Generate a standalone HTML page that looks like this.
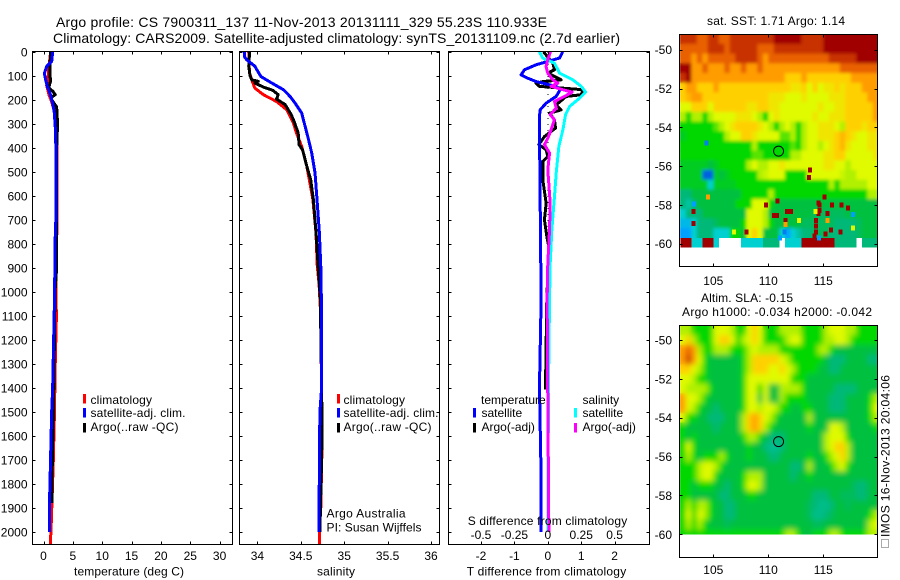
<!DOCTYPE html>
<html lang="en">
<head>
<meta charset="utf-8">
<title>Argo profile 7900311_137</title>
<style>
html,body{margin:0;padding:0;background:#fff;}
svg{display:block;}
text{font-family:"Liberation Sans",sans-serif;font-size:12px;fill:#000;}
.title{font-size:14px;}
</style>
</head>
<body>
<svg id="chart" xmlns="http://www.w3.org/2000/svg" width="900" height="580" viewBox="0 0 900 580">
  <defs>
    <clipPath id="clip-t"><rect x="32.5" y="51.5" width="200" height="493"/></clipPath>
    <clipPath id="clip-s"><rect x="239.5" y="51.5" width="200" height="493"/></clipPath>
    <clipPath id="clip-d"><rect x="448.5" y="51.5" width="201" height="493"/></clipPath>
    <clipPath id="clip-m1"><rect x="680" y="34" width="198" height="232"/></clipPath>
    <clipPath id="clip-m2"><rect x="680" y="326" width="198" height="208.5"/></clipPath>
    <filter id="soft" x="-5%" y="-5%" width="110%" height="110%"><feGaussianBlur stdDeviation="3"/></filter>
    <filter id="soft-light" x="-5%" y="-5%" width="110%" height="110%"><feGaussianBlur stdDeviation="1.6"/></filter>
  </defs>
  <rect width="900" height="580" fill="#fff"/>
  <text class="title" x="56" y="27" textLength="491" lengthAdjust="spacing">Argo profile: CS 7900311_137 11-Nov-2013 20131111_329 55.23S 110.933E</text>
  <text class="title" x="53" y="43" textLength="567" lengthAdjust="spacing">Climatology: CARS2009. Satellite-adjusted climatology: synTS_20131109.nc (2.7d earlier)</text>
  <g id="layer-maps"></g>
  <g id="layer-profiles"></g>
  <g id="layer-axes"></g>

  <text x="74" y="575.5" textLength="110" lengthAdjust="spacing">temperature (deg C)</text>
  <text x="317" y="575.5" textLength="38" lengthAdjust="spacing">salinity</text>
  <text x="466.7" y="575.5" textLength="159.5" lengthAdjust="spacing">T difference from climatology</text>
  <text x="467.7" y="525" textLength="159.5" lengthAdjust="spacing">S difference from climatology</text>

  <g>
    <rect x="83" y="394" width="3" height="9.5" fill="#f00"/>
    <text x="90.5" y="404" textLength="61.5" lengthAdjust="spacing">climatology</text>
    <rect x="83" y="408" width="3" height="9.5" fill="#00f"/>
    <text x="90.5" y="417" textLength="95" lengthAdjust="spacing">satellite-adj. clim.</text>
    <rect x="83" y="423" width="3" height="9.5" fill="#000"/>
    <text x="90.5" y="431" textLength="88" lengthAdjust="spacing">Argo(..raw -QC)</text>
  </g>
  <g>
    <rect x="337" y="394" width="3" height="9.5" fill="#f00"/>
    <text x="343.5" y="404" textLength="61.5" lengthAdjust="spacing">climatology</text>
    <rect x="337" y="408" width="3" height="9.5" fill="#00f"/>
    <text x="343.5" y="417" textLength="95" lengthAdjust="spacing">satellite-adj. clim.</text>
    <rect x="337" y="423" width="3" height="9.5" fill="#000"/>
    <text x="343.5" y="431" textLength="88" lengthAdjust="spacing">Argo(..raw -QC)</text>
  </g>
  <text x="326.5" y="517.5" textLength="79" lengthAdjust="spacing">Argo Australia</text>
  <text x="326.5" y="531.5" textLength="95" lengthAdjust="spacing">PI: Susan Wijffels</text>
  <g>
    <text x="481" y="404">temperature</text>
    <rect x="473" y="408" width="3" height="9.5" fill="#00f"/>
    <text x="481.5" y="417">satellite</text>
    <rect x="473" y="423" width="3" height="9.5" fill="#000"/>
    <text x="481.5" y="431">Argo(-adj)</text>
    <text x="582.5" y="404">salinity</text>
    <rect x="574" y="408" width="3" height="9.5" fill="#0ff"/>
    <text x="582.5" y="417">satellite</text>
    <rect x="574" y="423" width="3" height="9.5" fill="#f0f"/>
    <text x="582.5" y="431">Argo(-adj)</text>
  </g>

  <text x="707" y="25" textLength="138" lengthAdjust="spacing">sat. SST: 1.71 Argo: 1.14</text>
  <text x="701" y="302" textLength="92" lengthAdjust="spacing">Altim. SLA: -0.15</text>
  <text x="682" y="316" textLength="190" lengthAdjust="spacing">Argo h1000: -0.034 h2000: -0.042</text>
  <rect x="881.5" y="539.5" width="7" height="8" fill="none" stroke="#555" stroke-width="1" stroke-dasharray="1 1"/>
  <text transform="translate(889.5 537) rotate(-90)" textLength="162" lengthAdjust="spacing">IMOS 16-Nov-2013 20:04:06</text>
</svg>
<script>
// ---- axis tick data ----
const depthTicks = [0,100,200,300,400,500,600,700,800,900,1000,1100,1200,1300,1400,1500,1600,1700,1800,1900,2000];
const tempTicks = [0,5,10,15,20,25,30];
const salTicks = [34,34.5,35,35.5,36];
const salTickLabels = ['34','34.5','35','35.5','36'];
const dtTicks = [-2,-1,0,1,2];
const dsTicks = [-0.5,-0.25,0,0.25,0.5];
const dsTickLabels = ['-0.5','-0.25','0','0.25','0.5'];
const lonTicks = [105,110,115];
const latTicks = [-50,-52,-54,-56,-58,-60];

// ---- temperature profiles ----
const tempClimDepth = [0,60,100,140,180,200,250,400,700,1000,1100,1300,1520,1720,1980,2055];
const tempClimValue = [1.22,0.94,0.82,0.54,0.94,1.28,1.9,2.3,2.3,2.1,2.2,2.0,1.85,1.65,1.3,1.16];
const tempArgoDepth = [0,60,100,120,150,165,179,190,200,230,300,330,400,800,900,1000,1500,1700,1880];
const tempArgoValue = [1.22,1.1,1.1,1.22,0.9,1.6,2.0,1.3,1.4,2.24,2.4,2.35,2.24,2.24,2.24,1.96,1.7,1.5,1.45];
const tempSatDepth = [0,40,60,90,117,145,172,214,255,340,478,700,800,1000,1400,1500,1700,1900,2000];
const tempSatValue = [1.56,1.4,0.55,0.15,0.37,0.65,1.1,1.56,1.85,2.07,2.13,2.1,1.96,1.9,1.56,1.39,1.2,1.0,1.0];

// ---- salinity profiles ----
const salClimDepth = [0,60,89,117,151,179,207,242,297,339,394,478,617,755,894,964,1100,1630,1900,1970,2055];
const salClimValue = [33.9,33.905,33.91,33.935,33.97,34.07,34.22,34.34,34.415,34.45,34.51,34.57,34.64,34.675,34.69,34.71,34.73,34.745,34.73,34.714,34.714];
const salArgoDepth = [0,60,100,117,123,130,147,161,179,197,220,262,297,339,387,408,478,533,617,755,894,1033,1400,1600,1800,2000];
const salArgoValue = [33.91,33.9,33.916,33.935,34.01,33.97,34.07,34.18,34.24,34.22,34.32,34.39,34.43,34.47,34.48,34.52,34.57,34.614,34.645,34.676,34.7,34.725,34.74,34.745,34.733,34.72];
const salSatDepth = [0,20,33,60,103,130,158,186,214,255,311,367,422,505,617,755,894,1033,1400,1500,1700,2000];
const salSatValue = [33.85,33.85,33.877,33.97,34.04,34.165,34.3,34.376,34.434,34.51,34.55,34.59,34.626,34.664,34.687,34.714,34.73,34.737,34.74,34.72,34.714,34.71];

// ---- difference profiles ----
const dtArgoDepth = [0,47,75,89,117,124,131,144,158,179,186,221,242,256,283,318,353,387,408,436,457,533,631,700,769,811,1033,1408];
const dtArgoValue = [-0.13,0.15,0.2,0,0.4,-0.15,-0.35,-0.25,1.05,1.0,0.55,0.25,0.4,0.05,0.2,0.23,-0.1,-0.27,-0.05,0,-0.15,-0.15,-0.05,-0.1,-0.03,0.03,-0.03,-0.07];
const dtSatDepth = [0,26,40,54,75,96,110,124,144,158,186,214,242,269,464,1033,1400,1700,2000];
const dtSatValue = [0.45,0.35,0,-0.35,-0.7,-0.8,-0.6,-0.35,0.25,0.37,0.25,-0.05,-0.23,-0.25,-0.24,-0.2,-0.25,-0.21,-0.21];
const dsArgoDepth = [0,33,61,89,117,131,144,158,168,186,207,235,262,283,325,360,387,422,492,630,742,881,1033,1450,2000];
const dsArgoValue = [0.02,0,-0.013,0,0.038,0.075,0.025,0.113,0.183,0.125,0.05,0.063,0.018,0.05,0.025,0,-0.025,0.013,0,0.018,0.013,0,-0.005,0,0.008];
const dsSatDepth = [0,26,47,89,117,144,168,193,228,262,325,394,505,603,742,881,1033,1400,2000];
const dsSatValue = [-0.063,-0.038,0.05,0.088,0.188,0.25,0.283,0.238,0.163,0.133,0.113,0.083,0.063,0.05,0.03,0.018,0.013,0.005,0];

// ---- map data: colour-scale level per 0.5-degree cell, null = no data ----
const mapLonStart = 102;
const mapCellDegrees = 0.5;
const sstLatStart = -49.2;
const sstGrid = [
[11,11,11,10,10,11,11,10,10,11,11,11,11,11,11,11,11,12,12,12,12,12,11,11,11,11,12,12,12,12,12,12,12,12,12,12],
[10,10,10,10,10,11,11,11,10,11,11,11,11,11,10,10,10,11,11,11,11,11,11,11,11,11,12,12,12,12,12,12,12,12,12,12],
[10,10,9,10,9,10,10,10,10,10,11,11,11,11,10,9,10,10,10,10,10,10,10,10,10,10,10,11,11,11,11,11,12,12,12,12],
[12,12,9,9,10,9,9,9,10,9,9,10,9,9,10,9,9,9,9,9,9,9,9,9,9,9,9,9,9,10,10,10,10,10,10,10],
[11,12,9,9,9,9,9,9,9,9,9,9,9,9,9,9,9,9,9,8,8,8,9,8,8,8,8,8,8,8,8,9,9,9,9,9],
[8,9,9,8,8,8,9,8,8,8,8,8,8,8,8,8,8,8,8,8,7.5,7.5,8,7,8,7,7.5,7.5,8,7.5,8,8,8,9,9,9],
[8,8.5,9,9,8,8,8,8,8,8,8,8,8,8,8,8,7.5,7.5,7.5,7,7,7,7.5,7,7,7,7,7.5,7.5,7.5,8,8,8,8,9,9],
[7,7,8,8,8,7,8,8,8,8,8,8,7.5,7.5,8,8,7.5,7.5,7,7,7,7,7,7,7,7.5,7,7,7.5,7.5,8,8,8,8,8,9],
[6,5,6,6,5,6,7,7,7,7,7.5,7.5,7.5,7,6,5,7,7.5,7,7,7,7,7,7,7.5,7,7,7.5,7.5,7.5,8,8,8,8,8,9],
[5,5,5,5,5,5,5.5,6,7,7.5,8,8,8,8,7.5,7,6,5,6,7,6,5,6,7,7,7.5,7.5,7.5,7,6,8,8,8,7.5,8,8],
[4.5,5,5,5,5,5,5,5,6,7,7,8,8,7.5,7,7,7,7,5.5,5.5,6,5,6,7,7,7.5,7.5,7.5,8,8.5,8,7.5,7,7,7.5,7.5],
[5,5,5,5,5,5,5,5,5,5,5,5,5,6,5,5,5,5,5,5,5.5,5,6,7,7,6,7,7.5,8,8.5,7.5,7,7,7,7.5,7.5],
[5,5,5,5,5,5,5,5,5,5,5,5,5,5.5,5.5,5,5,5,5,5,6,6,7,7,7,7,7.5,7.5,8,8,7,7,7,7,7,7.5],
[4.5,4.5,4.5,4.5,4.5,4,4.5,5,5,5,5,5,6,7,6,6,7,7,7.5,7,7,7,7,7,7,7,7.5,7.5,7,7,6,7,7,7,7,7],
[4.5,4.5,4.5,4.5,0,0,4.5,4,4.5,5,5,5,5,5,6,6.5,7,7,7,5,5,5,5,7,7,7,7,7,7,6.5,6,6,7,7,7,7],
[4.5,4.5,4.5,4.5,4.5,2,4.5,4.5,4.5,4.5,5,5,5,5,5,5,5,5,5,5,5,5,5,5,5,5,5,6,5,6,6,6,6,6,7,7],
[3,3,4,4,4,4,4,4,4,4,4,5,5,5,5,5,6,5,5,5,5,5,5,5,5,5,5,5,5,5,5,5,5,5,6,6],
[3,2.5,3,4,4,4,4,4,4,4,5,5,5,7,7,7,5,4,4,4,4,4,4,4,4,4,4,4,4,4,4,4,4,4,4,4],
[2,3,3,3,4,4,4,4,4,4,4,4,7,7,7,6,4,4,4,4,4,4,4,4,3.5,3.5,3.5,3.5,3.5,3.5,4,4,4,4,4,4],
[1.5,1.5,2,3,3,3,3.5,4,4,4,4,5,7,7,7,6,5,4,4,4,4,4,3.5,3.5,3.5,3.5,3.5,3.5,3,3,3,3,3.5,4,4,4],
[1,1,2,3,3,3,2,2,2,5,5,4,7,8,7,4,4,4,2,1,2,2.5,3,3,3.5,3.5,3.5,3,3,3,3,3,3.5,4,4,4],
[12,12,2,2,12,12,2,null,null,null,null,2,2,2,2,3,3,3,null,2,2,2,12,12,12,12,12,12,3,3,3,3,null,3,3,3]
];
const sstSpeckLon = [109.8,110.85,110.5,110.8,111.55,111.7,112.05,113.8,113.7,114.65,114.65,114.55,114.55,115.1,115.8,116.65,117.25,115.4,114.35,114.35,114.35,114.2,115.2,108,103.2,103.2,115.7,116.55,114.3,115.4,112.8,106.9,117.7,104.5,111.55,104.4,111.45,103.25,111.05,114.6,117.7];
const sstSpeckLat = [-58,-57.8,-58.55,-58.55,-58.8,-58.35,-58.35,-56.2,-56.6,-58.3,-58,-57.9,-58.45,-57.6,-58,-58,-58.15,-58.45,-58.8,-59.1,-59.4,-59.6,-59.5,-59.4,-58.35,-58.95,-59.3,-59.4,-58.35,-58.8,-58.8,-59.4,-59.2,-57.6,-59,-54.8,-59.4,-57.95,-59.7,-59.7,-58.5];
const sstSpeckLevel = [12,12,12,12,12,12,12,12,12,12,12,12,12,12,12,12,12,12,12,12,12,12,12,12,12,12,12,12,7,9,7,7,7,9,9,0.5,0.5,1,1,1,1];

const slaLatStart = -49.25;
const slaGrid = [
[6,6,5,5,5,5,7,7,7,6,5,5,7,8,7,5,5,5,6,6,6,6,5,5,5,5,6,7,7,7,6,6,5,5,5,5],
[7,8,6,5,5,5,7,8,8,7,5,6,7,8,7,5,5,5,5,6,7,7,5,5,5,5,6,6,7,7,6,5,5,5,5,5],
[9,10,9,6,5,5,6,6,6,5,5,5,6,7,6,6,6,6,5,5,5,5,5,5,5,6,6,5,4,4,4,4,4,4,4,4],
[9,11,9,7,5,4,4,4,4,4,4,5,6,8,8,8,8,8,7,6,5,5,5,5,5,5,4,3,3,3,4,4,4,4,3,3],
[8,8,7,6,5,4,4,4,4,4,4,5,6,8,8,8,7,7,8,7,6,5,5,5,5,4,4,3,3,4,4,4,4,4,4,4],
[7,7,6,5,5,4,4,4,4,4,4,5,7,7,7,7,7,7,7,7,5,5,5,4,4,4,4,4,4,4,4,4,4,4,4,4],
[7,6,6,6,6,5,4,4,4,4,4,5,7,7,5,7,4,4,6,6,6,6,5,4,4,4,4,4,3,3,3,3,4,4,4,4],
[9,7,7,6,5,4,4,4,4,4,4,5,7,7,4,7,4,4,6,5,5,5,5,4,4,4,4,3,3,3,4,4,4,4,5,6],
[9,7,6,5,4,4,3,4,4,4,4,5,7,7,6,7,7,6,5,5,4,4,5,5,4,4,4,3,3,3,4,4,4,4,5,7],
[7,5,5,4,4,3,3,3,4,4,4,6,8,9,8,7,6,5,4,4,4,4,4,6,4,4,4,4,4,4,4,4,4,4,5,6],
[5,4,4,4,4,4,3,4,4,4,4,6,8,9,8,6,5,4,4,4,4,4,4,5,4,4,4,7,7,6,4,4,4,4,4,5],
[5,4,5,4,4,4,4,4,4,4,4,5,6,6,5,4,3,3,3,4,4,4,4,4,4,4,6,7,7,7,5,4,4,4,4,4],
[5,7,5,4,4,4,4,4,4,4,4,4,5,4,4,3,2.7,2.7,3,4,4,4,4,4,4,4,6,7,8,8,6,4,4,4,4,4],
[5,6,5,4,5,5,5,6,5,4,4,4,5,4,4,4,3,3,4,4,4,4,4,5,4,4,5,6,7,8,6,4,4,4,4,4],
[5,5,5,6,7,7,6,5,4,4,4,4,4,4,4,4,4,4,4,4,3,3,4,6,4,4,4,5,6,7,5,4,4,4,4,4],
[5,5,5,6,7,7,5,4,4,4,4,5,6,6,6,4,4,4,4,4,3,4,4,5,4,4,4,4,4,4,4,4,4,4,4,4],
[5,5,4,5,5,5,4,4,3,4,4,5,7,7,6,4,4,4,4,4,4,4,4,4,4,4,4,4,4,4,4,3.5,3,3,4,4],
[5,5,4,4,4,4,4,3,3,4,4,4,5,5,4,4,4,4,4,4,4,4,4,4,3,3,3,4,4,3.5,3.5,3.5,3,3,4,4],
[5,6,5,6,6,5,4,4,3,3,4,4,4,4,4,4,4,4,4,4,4,4,4,3.5,3,2.8,2.8,3,4,4,3.5,4,4,4,4,4],
[5,7,5,7,6,5,4,4,3,3,4,4,4,4,4,4,4,4,4,4,4,4,4,3.5,2.8,2.8,3,3.5,4,4,4,4,4,4,5,6],
[5,6,5,6,5,4,4,4,3.5,4,4,4,4,4,4,4,4,4,4,4,4,4,4,4,3.5,3.5,4,4,4,4,4,4,4,4,6,7],
[5,5,5,5,5,5,5,5,5,5,5,5,5,5,5,5,5,5,5,6,6,5,4,4,5,5,5,6,6,5,5,5,5,5,6,6]
];
const floatLon = 110.933;
const floatLat = -55.23;

// ---- rendering ----
const NS = 'http://www.w3.org/2000/svg';
const mapsLayer = document.getElementById('layer-maps');
const profilesLayer = document.getElementById('layer-profiles');
const axesLayer = document.getElementById('layer-axes');

function make(tag, parent) {
  const el = document.createElementNS(NS, tag);
  parent.appendChild(el);
  return el;
}

const yDepth = d => 51.8 + d * 0.24;
const xTemp = v => 43.5 + v * 5.87;
const xSal = v => 257.4 + (v - 34) * 86.8;
const xDt = v => 547.8 + v * 33.4;
const xDs = v => 547.8 + v * 133.6;
const xLon = v => 680.3 + (v - 102) * 11;
const ySstLat = v => 49.7 + (-50 - v) * 19.4;
const ySlaLat = v => 340 + (-50 - v) * 19.43;

const colourStops = ['#0060e0','#00a0ff','#00d0d0','#00b878','#00c040','#00d800','#b0f000','#e0fa00','#ffd000','#ff9c00','#e86000','#c83000','#a00000'];

function colour(level) {
  const lo = Math.max(0, Math.min(12, Math.floor(level)));
  const hi = Math.min(12, lo + 1);
  const t = level - lo;
  const a = parseInt(colourStops[lo].slice(1), 16);
  const b = parseInt(colourStops[hi].slice(1), 16);
  const mix = s => Math.round(((a >> s) & 255) * (1 - t) + ((b >> s) & 255) * t);
  return 'rgb(' + mix(16) + ',' + mix(8) + ',' + mix(0) + ')';
}

function drawGrid(parent, grid, firstRow, lastRow, latStart, yLat, cellName) {
  for (let r = firstRow; r <= lastRow; r++) {
    grid[r].forEach((level, c) => {
      const lon = mapLonStart + c * mapCellDegrees;
      const lat = latStart - r * mapCellDegrees;
      const cell = make('rect', parent);
      
      
      cell.setAttribute('x', xLon(lon));
      cell.setAttribute('y', yLat(lat));
      cell.setAttribute('width', xLon(lon + mapCellDegrees) - xLon(lon) + 0.4);
      cell.setAttribute('height', yLat(lat - mapCellDegrees) - yLat(lat) + 0.4);
      cell.setAttribute('fill', level === null ? '#fff' : colour(level));
    });
  }
}

function drawFrame(left, right, top, bottom, name) {
  const frame = make('rect', axesLayer);
  
  
  frame.setAttribute('x', left);
  frame.setAttribute('y', top);
  frame.setAttribute('width', right - left);
  frame.setAttribute('height', bottom - top);
  frame.setAttribute('fill', 'none');
  frame.setAttribute('stroke', '#000');
  frame.setAttribute('stroke-width', '1');
  frame.setAttribute('shape-rendering', 'crispEdges');
}

function tickSegment(x1, y1, x2, y2) {
  const t = make('line', axesLayer);
  
  
  t.setAttribute('x1', x1);
  t.setAttribute('y1', y1);
  t.setAttribute('x2', x2);
  t.setAttribute('y2', y2);
  t.setAttribute('stroke', '#000');
  t.setAttribute('stroke-width', '1');
  t.setAttribute('shape-rendering', 'crispEdges');
}

function tickLabel(x, y, text, anchor) {
  const t = make('text', axesLayer);
  
  
  t.setAttribute('x', x);
  t.setAttribute('y', y);
  t.setAttribute('text-anchor', anchor);
  t.textContent = text;
}

function xTicks(values, labels, scale, top, bottom, labelY) {
  values.forEach((v, i) => {
    const x = Math.round(scale(v)) + 0.5;
    tickSegment(x, top, x, top + 3);
    tickSegment(x, bottom - 3, x, bottom);
    tickLabel(scale(v), labelY, labels[i], 'middle');
  });
}

function yTicks(values, scale, left, right) {
  values.forEach(v => {
    const y = Math.round(scale(v)) + 0.5;
    tickSegment(left, y, left + 3, y);
    tickSegment(right - 3, y, right, y);
  });
}

function drawProfile(depths, values, xScale, clipId, stroke, name) {
  const line = make('polyline', profilesLayer);
  
  
  line.setAttribute('points', depths.map((d, i) => xScale(values[i]).toFixed(2) + ',' + yDepth(d).toFixed(2)).join(' '));
  line.setAttribute('fill', 'none');
  line.setAttribute('stroke', stroke);
  line.setAttribute('stroke-width', '3');
  line.setAttribute('stroke-linejoin', 'round');
  line.setAttribute('shape-rendering', 'crispEdges');
  line.setAttribute('clip-path', 'url(#' + clipId + ')');
}

// maps
const sstGroup = make('g', mapsLayer);


sstGroup.setAttribute('clip-path', 'url(#clip-m1)');
const sstBase = make('g', sstGroup);


drawGrid(sstBase, sstGrid, 0, 20, sstLatStart, ySstLat, 'sst-cell');
const sstSoft = make('g', sstGroup);


sstSoft.setAttribute('filter', 'url(#soft-light)');
drawGrid(sstSoft, sstGrid, 0, 20, sstLatStart, ySstLat, 'sst-cell');
const sstEdge = make('g', sstGroup);


sstEdge.setAttribute('shape-rendering', 'crispEdges');
drawGrid(sstEdge, sstGrid, 21, 21, sstLatStart, ySstLat, 'sst-cell');
const sstBelow = make('rect', sstEdge);


sstBelow.setAttribute('x', 680);
sstBelow.setAttribute('y', ySstLat(-60.2));
sstBelow.setAttribute('width', 198);
sstBelow.setAttribute('height', 30);
sstBelow.setAttribute('fill', '#fff');
sstSpeckLon.forEach((lon, i) => {
  const s = make('rect', sstEdge);
  
  
  s.setAttribute('x', xLon(lon) - 2);
  s.setAttribute('y', ySstLat(sstSpeckLat[i]) - 2.5);
  s.setAttribute('width', 4);
  s.setAttribute('height', 5);
  s.setAttribute('fill', colour(sstSpeckLevel[i]));
});

const slaGroup = make('g', mapsLayer);


slaGroup.setAttribute('clip-path', 'url(#clip-m2)');
const slaBase = make('g', slaGroup);


drawGrid(slaBase, slaGrid, 0, 21, slaLatStart, ySlaLat, 'sla-cell');
const slaSoft = make('g', slaGroup);


slaSoft.setAttribute('filter', 'url(#soft)');
drawGrid(slaSoft, slaGrid, 0, 21, slaLatStart, ySlaLat, 'sla-cell');

[[ySstLat, 'sst-float-marker'], [ySlaLat, 'altimetry-float-marker']].forEach(pair => {
  const c = make('circle', mapsLayer);
  
  
  c.setAttribute('cx', xLon(floatLon));
  c.setAttribute('cy', pair[0](floatLat));
  c.setAttribute('r', 5);
  c.setAttribute('fill', 'none');
  c.setAttribute('stroke', '#000');
  c.setAttribute('stroke-width', '1');
});

// profile marks
drawProfile(tempClimDepth, tempClimValue, xTemp, 'clip-t', '#f00', 'temperature-climatology-line');
drawProfile(tempArgoDepth, tempArgoValue, xTemp, 'clip-t', '#000', 'temperature-argo-line');
drawProfile(tempSatDepth, tempSatValue, xTemp, 'clip-t', '#00f', 'temperature-satellite-line');
drawProfile(salClimDepth, salClimValue, xSal, 'clip-s', '#f00', 'salinity-climatology-line');
drawProfile(salArgoDepth, salArgoValue, xSal, 'clip-s', '#000', 'salinity-argo-line');
drawProfile(salSatDepth, salSatValue, xSal, 'clip-s', '#00f', 'salinity-satellite-line');

const zeroLine = make('line', profilesLayer);


zeroLine.setAttribute('x1', xDt(0));
zeroLine.setAttribute('x2', xDt(0));
zeroLine.setAttribute('y1', yDepth(0));
zeroLine.setAttribute('y2', yDepth(2000));
zeroLine.setAttribute('stroke', '#000');
zeroLine.setAttribute('stroke-width', '1');
zeroLine.setAttribute('stroke-dasharray', '1 5');
zeroLine.setAttribute('shape-rendering', 'crispEdges');

drawProfile(dtArgoDepth, dtArgoValue, xDt, 'clip-d', '#000', 't-difference-argo-line');
drawProfile(dtSatDepth, dtSatValue, xDt, 'clip-d', '#00f', 't-difference-satellite-line');
drawProfile(dsSatDepth, dsSatValue, xDs, 'clip-d', '#0ff', 's-difference-satellite-line');
drawProfile(dsArgoDepth, dsArgoValue, xDs, 'clip-d', '#f0f', 's-difference-argo-line');

// axes
drawFrame(32.5, 232.5, 51.5, 544.5, 'temperature-panel-frame');
drawFrame(239.5, 439.5, 51.5, 544.5, 'salinity-panel-frame');
drawFrame(448.5, 649.5, 51.5, 544.5, 'difference-panel-frame');
drawFrame(679.5, 877.5, 34.5, 266.5, 'sst-map-frame');
drawFrame(679.5, 877.5, 325.5, 557.5, 'altimetry-map-frame');

xTicks(tempTicks, tempTicks.map(String), xTemp, 51.5, 544.5, 560);
xTicks(salTicks, salTickLabels, xSal, 51.5, 544.5, 560);
xTicks(dtTicks, dtTicks.map(String), xDt, 51.5, 544.5, 560);
dsTicks.forEach((v, i) => {
  tickLabel(xDs(v), 539, dsTickLabels[i], 'middle');
});

yTicks(depthTicks, yDepth, 32.5, 232.5);
yTicks(depthTicks, yDepth, 239.5, 439.5);
yTicks(depthTicks, yDepth, 448.5, 649.5);
depthTicks.forEach(d => {
  tickLabel(27.5, yDepth(d) + 4.5, String(d), 'end');
});

xTicks(lonTicks, lonTicks.map(String), xLon, 34.5, 266.5, 285);
xTicks(lonTicks, lonTicks.map(String), xLon, 325.5, 557.5, 574);
yTicks(latTicks, ySstLat, 679.5, 877.5);
yTicks(latTicks, ySlaLat, 679.5, 877.5);
latTicks.forEach(v => {
  tickLabel(672, ySstLat(v) + 4.5, String(v), 'end');
  tickLabel(672, ySlaLat(v) + 4.5, String(v), 'end');
});
</script>
</body>
</html>
